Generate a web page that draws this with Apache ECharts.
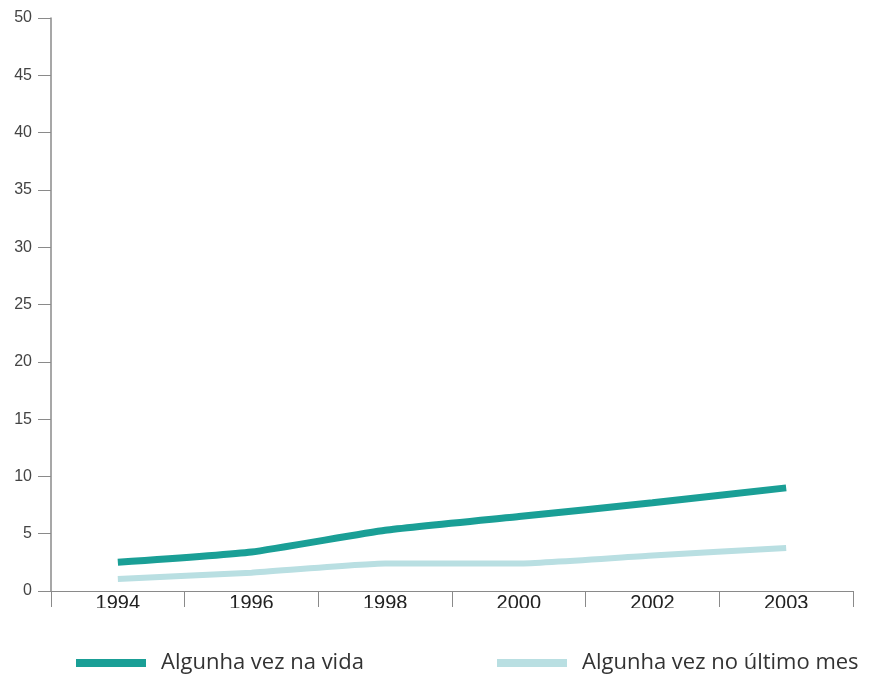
<!DOCTYPE html>
<html><head><meta charset="utf-8">
<script src="https://cdn.jsdelivr.net/npm/echarts@6/dist/echarts.min.js"></script>
<style>html,body{margin:0;padding:0;background:#fff;overflow:hidden}#c{width:869px;height:678px}</style>
</head><body><div id="c"></div>
<script>
const years = ['1994','1996','1998','2000','2002','2003'];
const vida = [2.5, 3.4, 5.3, 6.5, 7.7, 9.0];
const mes = [1.05, 1.6, 2.4, 2.4, 3.1, 3.75];
const yTicks = {min: 0, max: 50, interval: 5};
const seriesNames = ['Algunha vez na vida', 'Algunha vez no último mes'];
const colors = ['#1a9f96', '#b9dfe2'];

const chart = echarts.init(document.getElementById('c'), null, {renderer: 'canvas'});
const legendBase = {
  top: 652, itemWidth: 70, itemHeight: 8, icon: 'rect', padding: 0,
  textStyle: {fontFamily: 'Open Sans', fontSize: 22, color: '#333', padding: [0,0,0,10]}
};
chart.setOption({
  animation: false,
  grid: {left: 51, right: 16, top: 18, bottom: 87},
  legend: [
    Object.assign({left: 76, data: [seriesNames[0]]}, legendBase),
    Object.assign({left: 497, data: [seriesNames[1]]}, legendBase)
  ],
  xAxis: {
    type: 'category', data: years, boundaryGap: true,
    axisLine: {lineStyle: {color: '#8a8a8a', width: 1}},
    axisTick: {show: true, length: 16, lineStyle: {color: '#8a8a8a'}},
    axisLabel: {margin: 2, fontFamily: 'Liberation Sans', fontSize: 20, color: '#222'}
  },
  yAxis: {
    type: 'value', min: yTicks.min, max: yTicks.max, interval: yTicks.interval,
    axisLine: {show: true, lineStyle: {color: '#8a8a8a', width: 1.5}},
    axisTick: {show: true, length: 13, lineStyle: {color: '#8a8a8a'}},
    splitLine: {show: false},
    axisLabel: {margin: 19, fontFamily: 'Liberation Sans', fontSize: 16, color: '#444'}
  },
  graphic: [{type: 'rect', left: 0, top: 608, shape: {width: 869, height: 24}, style: {fill: '#fff'}, z: 100}],
  series: [
    {name: seriesNames[0], type: 'line', data: vida, symbol: 'none', smooth: 0.15,
     lineStyle: {color: colors[0], width: 7}, itemStyle: {color: colors[0]}},
    {name: seriesNames[1], type: 'line', data: mes, symbol: 'none', smooth: 0.15,
     lineStyle: {color: colors[1], width: 6}, itemStyle: {color: colors[1]}}
  ]
});
</script></body></html>
